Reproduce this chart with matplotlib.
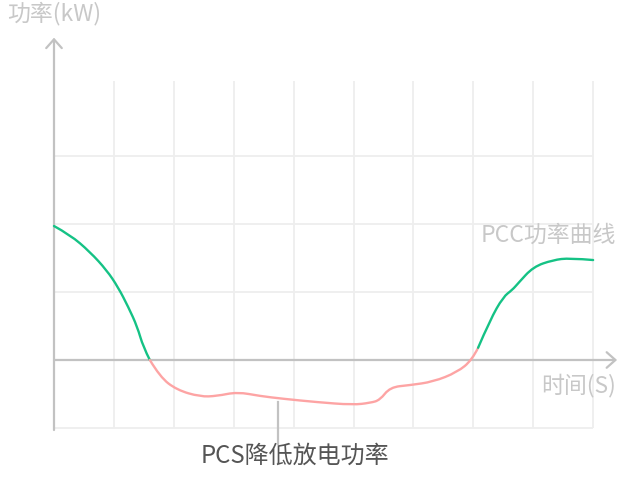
import matplotlib
matplotlib.use("Agg")
import matplotlib.pyplot as plt
from matplotlib.path import Path
from matplotlib.patches import PathPatch

plt.rcParams['font.family'] = ['Noto Sans CJK SC', 'DejaVu Sans']

# PCC power curve (grid units: x = time, y = power)
green_head_x = [0.00, 0.27, 0.60, 0.88, 1.07, 1.24, 1.39, 1.49, 1.60]
green_head_y = [1.97, 1.84, 1.59, 1.32, 1.07, 0.78, 0.49, 0.19, 0.00]

pink_x = [1.60, 1.77, 2.05, 2.44, 2.72, 3.06, 3.44, 3.82, 4.39, 4.99,
          5.28, 5.44, 5.61, 5.94, 6.33, 6.73, 6.98, 7.08]
pink_y = [0.00, -0.25, -0.44, -0.54, -0.53, -0.47, -0.53, -0.57, -0.62, -0.66,
          -0.63, -0.59, -0.40, -0.37, -0.32, -0.18, 0.00, 0.18]

green_tail_x = [7.08, 7.28, 7.50, 7.65, 7.75, 8.00, 8.33, 8.61, 9.00]
green_tail_y = [0.18, 0.59, 0.93, 1.03, 1.13, 1.37, 1.47, 1.50, 1.47]

grid_x = [1, 2, 3, 4, 5, 6, 7, 8, 9]
grid_y = [-1, 1, 2, 3]

y_label = '功率(kW)'
x_label = '时间(S)'
curve_label = 'PCC功率曲线'
note_label = 'PCS降低放电功率'

GREEN = '#15c285'
PINK = '#fda4a4'
AXIS = '#c2c2c2'
GRID = '#eeeeee'
LIGHT_TEXT = '#c8c8c8'


def smooth_curve(ax, xs, ys, color):
    # quadratic bezier chain: the read points act as control points
    pts = list(zip(xs, ys))
    verts = [pts[0]]
    codes = [Path.MOVETO]
    for i in range(1, len(pts) - 1):
        mid = ((pts[i][0] + pts[i + 1][0]) / 2, (pts[i][1] + pts[i + 1][1]) / 2)
        if i == len(pts) - 2:
            mid = pts[-1]
        verts += [pts[i], mid]
        codes += [Path.CURVE3, Path.CURVE3]
    patch = PathPatch(Path(verts, codes), facecolor='none', edgecolor=color,
                      linewidth=1.7, capstyle='round', joinstyle='round', zorder=3)
    ax.add_patch(patch)


fig = plt.figure(figsize=(6.26, 4.86), dpi=100)
ax = fig.add_axes([0, 0, 1, 1])
ax.set_xlim(-0.9015, 9.549)
ax.set_ylim(-1.853, 5.294)
ax.axis('off')

# grid
ax.vlines(grid_x, -1, 4.1, colors=GRID, linewidth=1.3, zorder=1)
ax.hlines(grid_y, 0, 9, colors=GRID, linewidth=1.3, zorder=1)

# axes with open arrow heads
arrow = dict(arrowstyle='->,head_length=0.45,head_width=0.4', color=AXIS,
             linewidth=1.6, mutation_scale=14, shrinkA=0, shrinkB=0)
ax.annotate('', xy=(0, 4.74), xytext=(0, -1.03), arrowprops=arrow, zorder=2)
ax.annotate('', xy=(9.40, 0), xytext=(0, 0), arrowprops=arrow, zorder=2)

# curve
smooth_curve(ax, green_head_x, green_head_y, GREEN)
smooth_curve(ax, pink_x, pink_y, PINK)
smooth_curve(ax, green_tail_x, green_tail_y, GREEN)

# labels
ax.text(-0.79, 5.1, y_label, color=LIGHT_TEXT, fontsize=16.5, va='center', ha='left')
ax.text(9.38, -0.37, x_label, color=LIGHT_TEXT, fontsize=16.5, va='center', ha='right')
ax.text(9.38, 1.84, curve_label, color=LIGHT_TEXT, fontsize=16.5, va='center', ha='right')

# note with pointer line
ax.plot([3.74, 3.74], [-0.62, -1.24], color=AXIS, linewidth=1.6, zorder=2)
ax.text(2.44, -1.41, note_label, color='#555555', fontsize=17.3, va='center', ha='left')

fig.savefig('out.png', dpi=100)
